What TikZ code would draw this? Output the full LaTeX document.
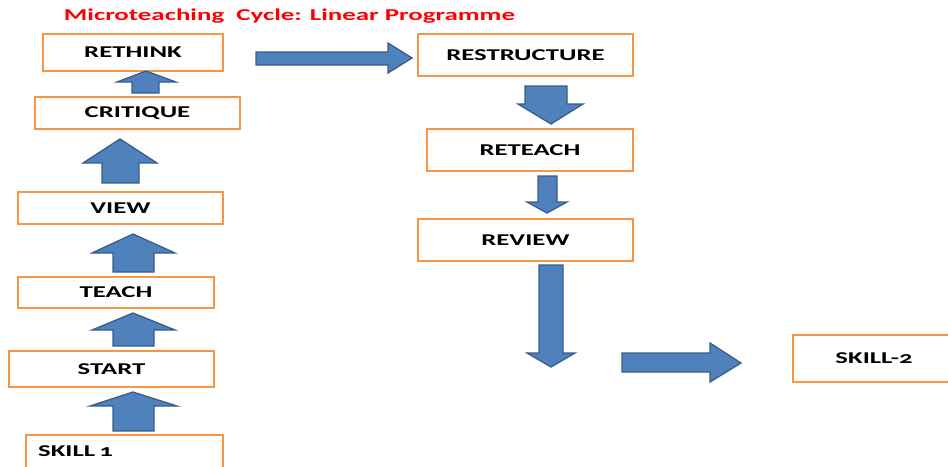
\documentclass[tikz,border=0pt]{standalone}
\usepackage{fontspec}
\setmainfont{Carlito}[FakeStretch=1.62,Numbers=OldStyle]
\definecolor{boxline}{HTML}{F79646}
\definecolor{arrfill}{HTML}{4F81BD}
\definecolor{arrline}{HTML}{385D8A}

\begin{document}
\begin{tikzpicture}[x=1pt,y=-1pt]
\tikzstyle{stage}=[draw=boxline,line width=2.4pt,fill=white,inner sep=0pt,font=\bfseries\fontsize{16.5}{19}\selectfont]
\tikzstyle{block}=[fill=arrfill,draw=arrline,line width=1.3pt,line join=miter]
\useasboundingbox (0,0) rectangle (948,466);
\clip (0,0) rectangle (948,466);
\node [red,font=\bfseries\fontsize{16.6}{19}\selectfont] (title) at (289.5,16.5) {Microteaching\ \ Cycle: Linear Programme};
% left column, bottom to top
\node [stage,minimum width=197,minimum height=40] (skillone) at (124.5,455) {};
\node [font=\bfseries\fontsize{16.5}{19}\selectfont,anchor=west,inner sep=2pt] (skillonetext) at (36,451) {SKILL\hspace{-2pt} 1};
\node [stage,minimum width=205,minimum height=36] (start) at (111.5,369) {START};
\node [stage,minimum width=196,minimum height=31] (teach) at (116,292.5) {TEACH};
\node [stage,minimum width=205,minimum height=32] (view) at (120.5,208) {VIEW};
\node [stage,minimum width=205,minimum height=32] (critique) at (137.5,113) {CRITIQUE};
\node [stage,minimum width=180,minimum height=37] (rethink) at (133,52.5) {RETHINK};
% right column
\node [stage,minimum width=215,minimum height=42] (restructure) at (525.5,55) {RESTRUCTURE};
\node [stage,minimum width=206,minimum height=42] (reteach) at (530,150) {RETEACH};
\node [stage,minimum width=215,minimum height=42] (review) at (525.5,240) {REVIEW};
\node [stage,minimum width=162,minimum height=47] (skilltwo) at (874,358.5) {SKILL-2};
% block arrows going up
\draw [block] (133,392) -- (177,406) -- (154,406) -- (154,431) -- (113,431) -- (113,406) -- (90,406) -- cycle;
\draw [block] (133,313) -- (175,330) -- (154,330) -- (154,346) -- (113,346) -- (113,330) -- (92,330) -- cycle;
\draw [block] (133,234) -- (175,253) -- (154,253) -- (154,272) -- (113,272) -- (113,253) -- (92,253) -- cycle;
\draw [block] (120,139) -- (157,163) -- (139,163) -- (139,183) -- (102,183) -- (102,163) -- (83,163) -- cycle;
\draw [block] (146,71) -- (176,82) -- (159,82) -- (159,93) -- (132,93) -- (132,82) -- (117,82) -- cycle;
% across to the right column
\draw [block] (256,52) -- (388,52) -- (388,43) -- (412,58) -- (388,73) -- (388,65) -- (256,65) -- cycle;
% block arrows going down
\draw [block] (525,86) -- (567,86) -- (567,104) -- (583,104) -- (551,124) -- (518,104) -- (525,104) -- cycle;
\draw [block] (538,176) -- (557,176) -- (557,202) -- (567,202) -- (547,213) -- (527,202) -- (538,202) -- cycle;
\draw [block] (539,265) -- (563,265) -- (563,353) -- (575,353) -- (551,367) -- (527,353) -- (539,353) -- cycle;
\draw [block] (622,353) -- (710,353) -- (710,343) -- (741,363) -- (710,382) -- (710,372) -- (622,372) -- cycle;
\end{tikzpicture}
\end{document}
